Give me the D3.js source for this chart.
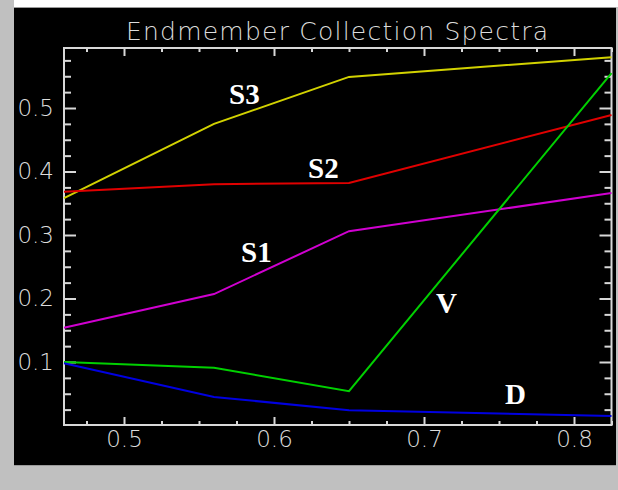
<!DOCTYPE html>
<html>
<head>
<meta charset="utf-8">
<script src="https://cdn.jsdelivr.net/npm/d3@7"></script>
<style>
  html, body { margin: 0; padding: 0; background: #c0c0c0; }
  svg { display: block; }
</style>
</head>
<body>
<svg id="chart" width="618" height="490"></svg>
<script>
// ── Data ──────────────────────────────────────────────────────────────────
const wavelengths = [0.46, 0.56, 0.65, 0.825];
const seriesNames = ["S3", "S2", "S1", "V", "D"];
const s3Values = [0.358, 0.475, 0.549, 0.580];
const s2Values = [0.368, 0.380, 0.382, 0.489];
const s1Values = [0.154, 0.207, 0.306, 0.366];
const vValues  = [0.100, 0.091, 0.054, 0.555];
const dValues  = [0.098, 0.045, 0.024, 0.015];
const seriesColors = ["#d2d200", "#e00000", "#d000d0", "#00d000", "#0000e0"];
// label anchor points in data space (wavelength, reflectance)
const labelX = [0.570, 0.6227, 0.578, 0.708, 0.754];
const labelY = [0.506, 0.390, 0.2575, 0.177, 0.034];
const xMajor = [0.5, 0.6, 0.7, 0.8];
const yMajor = [0.1, 0.2, 0.3, 0.4, 0.5];
const title = "Endmember Collection Spectra";

const seriesValues = [s3Values, s2Values, s1Values, vValues, dValues];

// ── Layout ────────────────────────────────────────────────────────────────
const W = 618, H = 490;
const plot = { left: 64, right: 611.5, top: 48, bottom: 425.5 };
const axisColor = "#d8d8d8";
const tickFont = "'DejaVu Sans', sans-serif";

const svg = d3.select("#chart");

// window chrome: white strip on top, black panel
svg.append("rect").attr("x", 14).attr("y", 0).attr("width", W - 14).attr("height", 7).attr("fill", "#ffffff");
svg.append("rect").attr("x", 14).attr("y", 7).attr("width", 602).attr("height", 459).attr("fill", "#9a9a9a");
svg.append("rect").attr("x", 14).attr("y", 8).attr("width", 602).attr("height", 457).attr("fill", "#000000");

const x = d3.scaleLinear().domain([0.46, 0.825]).range([plot.left, plot.right]);
const y = d3.scaleLinear().domain([0, 0.5945]).range([plot.bottom, plot.top]);

const xMinor = d3.range(0.475, 0.826, 0.025).filter(v => !xMajor.some(m => Math.abs(m - v) < 1e-6));
const yMinor = d3.range(0.025, 0.59, 0.025).filter(v => !yMajor.some(m => Math.abs(m - v) < 1e-6));

function styleAxis(g) {
  g.select(".domain").remove();
  g.selectAll("line").attr("stroke", axisColor).attr("stroke-width", 2);
  g.selectAll("text").attr("fill", "#dcdcdc")
    .style("font-family", tickFont).style("font-size", "23px").style("font-weight", "200");
}

// ticks (inward on all four sides)
const tickAxes = [
  [d3.axisRight(y), `translate(${plot.left},0)`, yMajor, 12],
  [d3.axisRight(y), `translate(${plot.left},0)`, yMinor, 7],
  [d3.axisLeft(y), `translate(${plot.right},0)`, yMajor, 12],
  [d3.axisLeft(y), `translate(${plot.right},0)`, yMinor, 7],
  [d3.axisTop(x), `translate(0,${plot.bottom - 0.5})`, xMajor, 8],
  [d3.axisTop(x), `translate(0,${plot.bottom - 0.5})`, xMinor, 4],
  [d3.axisBottom(x), `translate(0,${plot.top})`, xMajor, 8],
  [d3.axisBottom(x), `translate(0,${plot.top})`, xMinor, 4],
];
for (const [axis, tr, vals, size] of tickAxes) {
  svg.append("g").attr("transform", tr)
    .call(axis.tickValues(vals).tickSize(size).tickFormat(""))
    .call(styleAxis);
}

// tick labels
svg.append("g").attr("transform", `translate(${plot.left},0)`)
  .call(d3.axisLeft(y).tickValues(yMajor).tickSize(0).tickPadding(10).tickFormat(d3.format(".1f")))
  .call(styleAxis);
svg.append("g").attr("transform", `translate(0,${plot.bottom - 0.5})`)
  .call(d3.axisBottom(x).tickValues(xMajor).tickSize(0).tickPadding(6).tickFormat(d3.format(".1f")))
  .call(styleAxis);

// frame
svg.append("rect")
  .attr("x", plot.left).attr("y", plot.top)
  .attr("width", plot.right - plot.left).attr("height", plot.bottom - 0.5 - plot.top)
  .attr("fill", "none").attr("stroke", axisColor).attr("stroke-width", 2);

// title
svg.append("text")
  .attr("x", 126).attr("y", 40)
  .attr("textLength", 422).attr("lengthAdjust", "spacing")
  .attr("fill", "#dcdcdc")
  .style("font-family", tickFont).style("font-size", "25px").style("font-weight", "200")
  .text(title);

// spectra
const line = d3.line().x((d, i) => x(wavelengths[i])).y(d => y(d));
svg.append("g").selectAll("path")
  .data(seriesValues)
  .enter().append("path")
  .attr("d", d => line(d))
  .attr("fill", "none")
  .attr("stroke", (d, i) => seriesColors[i])
  .attr("stroke-width", 2);

// series labels
svg.append("g").selectAll("text")
  .data(seriesNames)
  .enter().append("text")
  .attr("x", (d, i) => x(labelX[i]))
  .attr("y", (d, i) => y(labelY[i]))
  .attr("fill", "#ffffff")
  .style("font-family", "'Liberation Serif', 'Times New Roman', serif")
  .style("font-weight", "bold")
  .style("font-size", "29px")
  .text(d => d);
</script>
</body>
</html>
